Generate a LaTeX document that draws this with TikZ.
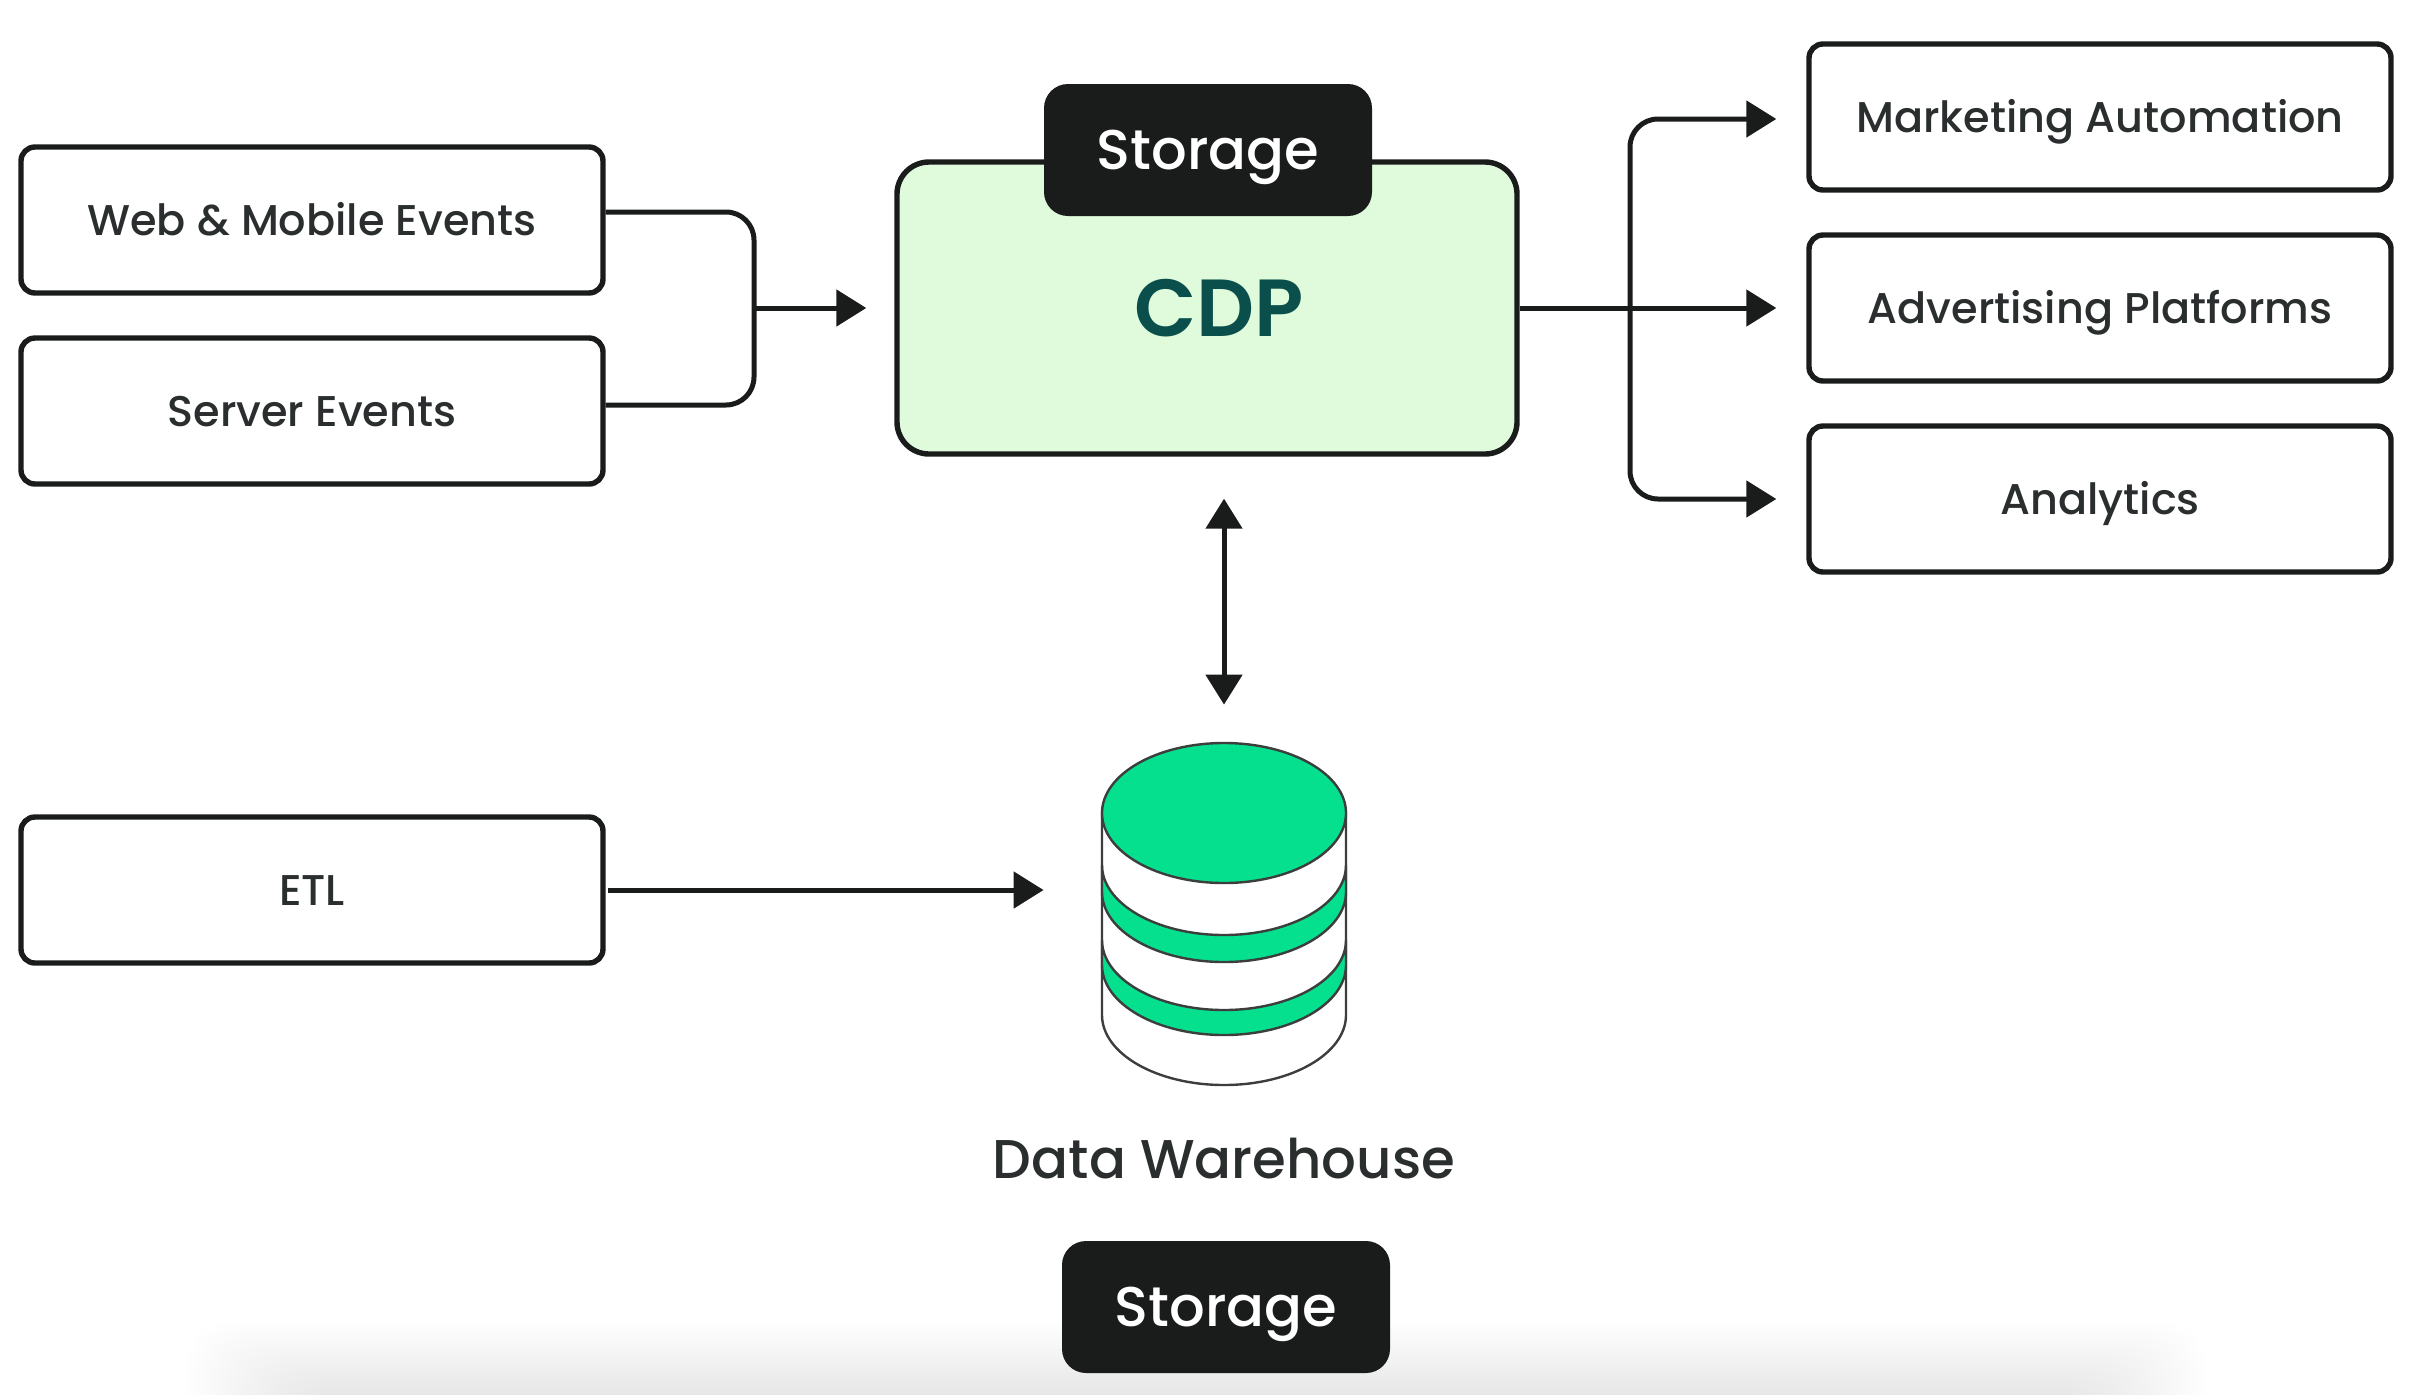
\documentclass[tikz,border=0pt]{standalone}
\usepackage{fontspec}
\setmainfont{Poppins Medium}[BoldFont={Poppins SemiBold}]
\usetikzlibrary{arrows.meta, positioning}
\definecolor{inkDark}{HTML}{1A1C1C}
\definecolor{labelDark}{HTML}{2A2E2E}
\definecolor{cdpFill}{HTML}{DFFBDC}
\definecolor{cdpText}{HTML}{0B4F4C}
\definecolor{tankGreen}{HTML}{05E08F}
\tikzstyle{stdText} = [align=center, inner sep=0pt, text=labelDark, text height=15pt, text depth=0pt, font=\fontsize{21.5}{26}\selectfont]
\tikzstyle{source} = [stdText, draw=inkDark, fill=white, line width=2.7pt, rounded corners=7pt, minimum width=291pt, minimum height=73pt]
\tikzstyle{sink} = [source]
\tikzstyle{storageTag} = [align=center, inner sep=0pt, fill=inkDark, text=white, rounded corners=12pt, minimum width=164pt, minimum height=66pt, text height=19.5pt, text depth=0pt, font=\fontsize{28}{33}\selectfont]
\tikzstyle{ln} = [line width=2.5pt, draw=inkDark, rounded corners=14pt]
\tikzstyle{ar} = [ln, -{Triangle[length=15pt, width=18pt]}]
\tikzstyle{tankLine} = [draw=inkDark!85, line width=1.2pt]

\begin{document}
\begin{tikzpicture}[x=.5pt, y=-.5pt]
    \useasboundingbox (0,0) rectangle (2420,1394);

    % soft shade along the bottom edge
    \foreach \i in {0,...,23}{
        \fill [black, opacity=.004, rounded corners=24pt] (185+\i*5,1322+\i*3) rectangle (2207-\i*5,1500);
    }

    % the sources
    \node (webEvents) [source] at (312,220) {Web \& Mobile Events};
    \node (serverEvents) [source] at (312,411) {Server Events};
    \node (etl) [source] at (312,890) {ETL};

    % the middle
    \node (cdp) [draw=inkDark, fill=cdpFill, line width=2.7pt, rounded corners=16pt, minimum width=310pt, minimum height=146pt, text=cdpText, font=\fontsize{40.5}{48}\selectfont\bfseries] at (1207,308) {\hspace*{12pt}CDP};
    \node (storageTop) [storageTag] at (1208,150) {Storage};

    % the targets
    \node (marketing) [sink] at (2100,117) {Marketing Automation};
    \node (advertising) [sink] at (2100,308) {Advertising Platforms};
    \node (analytics) [sink] at (2100,499) {Analytics};

    % the tank, drawn from the top down
    \node (tank) [inner sep=0pt, minimum width=122pt, minimum height=171pt] at (1224,914) {};
    \draw [tankLine, fill=white] (1102,813) -- (1102,1015) arc[start angle=180, end angle=360, x radius=61pt, y radius=35pt] -- (1346,813) -- cycle;
    \foreach \a/\b in {865/892, 940/965}{
        \draw [tankLine, fill=tankGreen] (1102,\a) arc[start angle=180, end angle=360, x radius=61pt, y radius=35pt] -- (1346,\b) arc[start angle=360, end angle=180, x radius=61pt, y radius=35pt] -- cycle;
    }
    \draw [tankLine, fill=tankGreen] (1224,813) ellipse [x radius=61pt, y radius=35pt];

    \node (tankLabel) [stdText, below=27.5pt of tank, text height=19pt, font=\fontsize{27.3}{32}\selectfont] {Data Warehouse};
    \node (storageBottom) [storageTag] at (1226,1307) {Storage};

    % the connectors
    \coordinate (joinIn) at (754,308);
    \coordinate (splitOut) at (1630,308);
    \coordinate (tankIn) at (storageTop.west |- etl.east);

    \draw [ln] ([yshift=4pt]webEvents.east) -| (joinIn) |- ([yshift=3pt]serverEvents.east);
    \draw [ar, shorten >=14pt] (joinIn) -- (cdp.west);

    \draw [ar, shorten >=15pt] (cdp.east) -- (advertising.west);
    \draw [ar, shorten >=15pt] (splitOut) |- ([yshift=-1pt]marketing.west);
    \draw [ar, shorten >=15pt] (splitOut) |- (analytics.west);

    \draw [ar, {Triangle[length=15pt, width=18pt]}-{Triangle[length=15pt, width=18pt]}, shorten <=21pt, shorten >=19pt] (cdp.south -| tank) -- (tank.north);
    \draw [ar, shorten <=1pt] (etl.east) -- (tankIn);
\end{tikzpicture}
\end{document}
